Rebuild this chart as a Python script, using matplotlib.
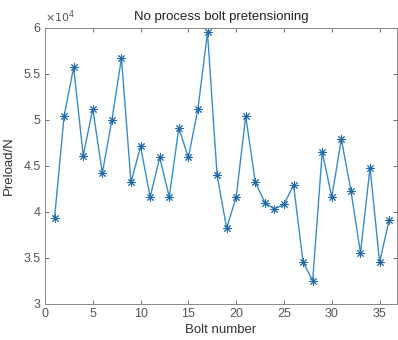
import numpy as np
import matplotlib
matplotlib.use("Agg")
import matplotlib.pyplot as plt
from matplotlib.ticker import FuncFormatter

plt.rcParams["font.family"] = ["Liberation Sans", "DejaVu Sans"]

bolt = np.arange(1, 37)
preload = np.array([3.93, 5.04, 5.57, 4.61, 5.12, 4.42, 5.00, 5.67, 4.32, 4.71,
                    4.16, 4.59, 4.16, 4.91, 4.59, 5.12, 5.95, 4.40, 3.82, 4.16,
                    5.04, 4.32, 4.10, 4.03, 4.08, 4.29, 3.45, 3.25, 4.65, 4.16,
                    4.79, 4.23, 3.55, 4.48, 3.45, 3.91]) * 1e4

fig = plt.figure(figsize=(3.98, 3.40), dpi=100)
ax = fig.add_axes([0.113, 0.107, 0.884, 0.811])

line_color = "#3a8cc6"
ax.plot(bolt, preload, color=line_color, lw=1.0, marker=(8, 2, 0),
        markersize=6, markeredgewidth=0.7, markeredgecolor="#1f6aa8")

ax.set_xlim(0, 36.8)
ax.set_ylim(3e4, 6e4)
ax.set_xticks(np.arange(0, 36, 5))
ax.set_yticks(np.arange(3e4, 6.01e4, 0.5e4))
ax.yaxis.set_major_formatter(FuncFormatter(lambda v, p: f"{v / 1e4:g}"))
ax.text(0.0, 1.012, r"$\times10^4$", transform=ax.transAxes, fontsize=8,
        color="#555555", ha="left", va="bottom")

ax.tick_params(direction="in", top=True, right=True, labelsize=9,
               colors="#555555", length=3, width=0.6, pad=3)
for s in ax.spines.values():
    s.set_color("#888888")
    s.set_linewidth(0.7)

ax.set_title("No process bolt pretensioning", fontsize=9.5, color="#222222", pad=6)
ax.set_xlabel("Bolt number", fontsize=9.5, color="#333333", labelpad=3)
ax.set_ylabel("Preload/N", fontsize=9.5, color="#333333", labelpad=6)

fig.savefig("out.png", dpi=100)
